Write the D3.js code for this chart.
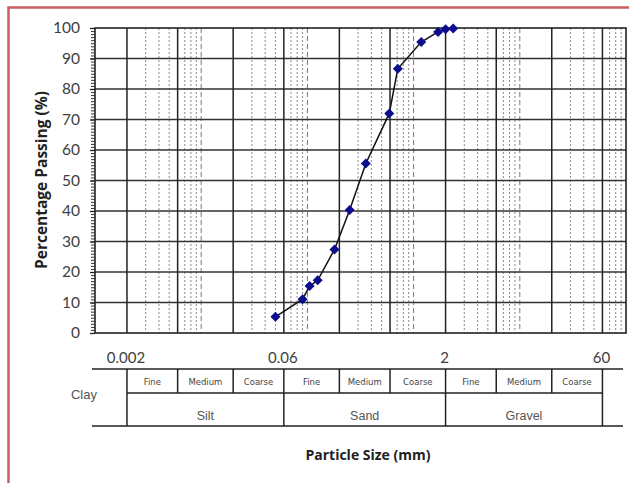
<!DOCTYPE html>
<html>
<head>
<meta charset="utf-8">
<script src="https://cdn.jsdelivr.net/npm/d3@7"></script>
<style>
  body { margin: 0; background: #fff; }
  svg { display: block; }
</style>
</head>
<body>
<div class="chart"></div>
<script>
// sieve data
const sizes = [0.05, 0.09, 0.105, 0.125, 0.18, 0.25, 0.355, 0.59, 0.71, 1.18, 1.7, 2.0, 2.36];
const passing = [5.3, 11.1, 15.4, 17.3, 27.4, 40.3, 55.6, 72.0, 86.6, 95.4, 98.7, 99.6, 99.8];

const xTicks = [0.002, 0.06, 2, 60];
const xTickLabels = ["0.002", "0.06", "2", "60"];
const yTicks = [0, 10, 20, 30, 40, 50, 60, 70, 80, 90, 100];

// soil classes
const boundaries = [0.002, 0.006, 0.02, 0.06, 0.2, 0.6, 2, 6, 20, 60];
const mainClasses = ["Silt", "Sand", "Gravel"];
const subClasses = ["Fine", "Medium", "Coarse"];

const width = 629;
const height = 483;

const xScale = d3.scaleLog()
  .domain([0.001, 100])
  .range([95, 626]);

const yScale = d3.scaleLinear()
  .domain([0, 100])
  .range([333, 28]);

const svg = d3.select(".chart")
  .append("svg")
  .attr("width", width)
  .attr("height", height);

// red frame round the picture
svg.append("rect")
  .attr("x", 8.5).attr("y", 7.5)
  .attr("width", 700).attr("height", 600)
  .attr("fill", "none")
  .attr("stroke", "#cc5c5e")
  .attr("stroke-width", 2.5);

// minor log grid (dashed)
const minor = [];
const decades = [];
for (let k = -3; k <= 1; k++) {
  const base = Math.pow(10, k);
  [3, 4, 5, 7, 8, 9].forEach(m => minor.push(m * base));
  if (k < 1) decades.push(10 * base);
}
svg.append("g").selectAll("line")
  .data(minor)
  .enter().append("line")
  .attr("x1", d => xScale(d)).attr("x2", d => xScale(d))
  .attr("y1", yScale(100)).attr("y2", yScale(0))
  .attr("stroke", "#8a8a8a")
  .attr("stroke-width", 1)
  .attr("stroke-dasharray", "2,2");

svg.append("g").selectAll("line")
  .data(decades)
  .enter().append("line")
  .attr("x1", d => xScale(d)).attr("x2", d => xScale(d))
  .attr("y1", yScale(100)).attr("y2", yScale(0))
  .attr("stroke", "#777")
  .attr("stroke-width", 1)
  .attr("stroke-dasharray", "5,3");

// horizontal grid
svg.append("g").selectAll("line")
  .data(yTicks.slice(1, -1))
  .enter().append("line")
  .attr("x1", xScale.range()[0]).attr("x2", xScale.range()[1])
  .attr("y1", d => yScale(d)).attr("y2", d => yScale(d))
  .attr("stroke", "#333")
  .attr("stroke-width", 1.3);

// class boundaries, solid
svg.append("g").selectAll("line")
  .data(boundaries)
  .enter().append("line")
  .attr("x1", d => xScale(d)).attr("x2", d => xScale(d))
  .attr("y1", yScale(100)).attr("y2", yScale(0))
  .attr("stroke", "#222")
  .attr("stroke-width", 1.5);

// plot frame
svg.append("rect")
  .attr("x", xScale.range()[0]).attr("y", yScale(100))
  .attr("width", xScale.range()[1] - xScale.range()[0])
  .attr("height", yScale(0) - yScale(100))
  .attr("fill", "none")
  .attr("stroke", "#222")
  .attr("stroke-width", 1.6);

// y axis with minor ticks
const yAxis = d3.axisLeft(yScale)
  .tickValues(d3.range(0, 101, 1))
  .tickSize(4)
  .tickFormat("");
svg.append("g")
  .attr("transform", "translate(" + xScale.range()[0] + ",0)")
  .call(yAxis)
  .call(g => g.select(".domain").remove())
  .call(g => g.selectAll("line").attr("stroke", "#333"));

const yAxisMajor = d3.axisLeft(yScale)
  .tickValues(yTicks)
  .tickSize(5)
  .tickPadding(10);
svg.append("g")
  .attr("transform", "translate(" + xScale.range()[0] + ",0)")
  .call(yAxisMajor)
  .call(g => g.select(".domain").remove())
  .call(g => g.selectAll("line").attr("stroke", "#222").attr("stroke-width", 1.3))
  .call(g => g.selectAll("text")
    .attr("fill", "#404040")
    .attr("font-family", "Lato, 'Open Sans', sans-serif")
    .attr("font-size", 15.5));

svg.append("text")
  .attr("transform", "translate(47,180) rotate(-90)")
  .attr("text-anchor", "middle")
  .attr("font-family", "'Open Sans', sans-serif")
  .attr("font-weight", "bold")
  .attr("font-size", 15.5)
  .attr("fill", "#222")
  .text("Percentage Passing (%)");

// x tick labels
svg.append("g").selectAll("text")
  .data(xTicks)
  .enter().append("text")
  .attr("x", d => xScale(d) - 1)
  .attr("y", 363)
  .attr("text-anchor", "middle")
  .attr("font-family", "Lato, 'Open Sans', sans-serif")
  .attr("font-size", 15)
  .attr("fill", "#404040")
  .text((d, i) => xTickLabels[i]);

// curve and points
const points = sizes.map((s, i) => [s, passing[i]]);
const line = d3.line()
  .x(d => xScale(d[0]))
  .y(d => yScale(d[1]));

svg.append("path")
  .datum(points)
  .attr("d", line)
  .attr("fill", "none")
  .attr("stroke", "#111")
  .attr("stroke-width", 1.5);

svg.append("g").selectAll("path")
  .data(points)
  .enter().append("path")
  .attr("d", d3.symbol().type(d3.symbolSquare).size(50))
  .attr("transform", d => "translate(" + xScale(d[0]) + "," + yScale(d[1]) + ") rotate(45)")
  .attr("fill", "#0c0c8e");

// classification table under the axis
const tTop = 369, tMid = 393, tBot = 426;
const table = svg.append("g").attr("stroke", "#222").attr("stroke-width", 1.5);

table.append("line").attr("x1", 92).attr("x2", 623).attr("y1", tTop).attr("y2", tTop);
table.append("line").attr("x1", 92).attr("x2", 623).attr("y1", tBot).attr("y2", tBot);
table.append("line")
  .attr("x1", xScale(boundaries[0])).attr("x2", xScale(60))
  .attr("y1", tMid).attr("y2", tMid);

table.selectAll(".major")
  .data(xTicks)
  .enter().append("line")
  .attr("x1", d => xScale(d)).attr("x2", d => xScale(d))
  .attr("y1", tTop).attr("y2", tBot);

table.selectAll(".sub")
  .data(boundaries.filter(b => xTicks.indexOf(b) < 0))
  .enter().append("line")
  .attr("x1", d => xScale(d)).attr("x2", d => xScale(d))
  .attr("y1", tTop).attr("y2", tMid);

// sub class labels
const subCells = [];
for (let i = 0; i < boundaries.length - 1; i++) {
  subCells.push({ a: boundaries[i], b: boundaries[i + 1], name: subClasses[i % 3] });
}
svg.append("g").selectAll("text")
  .data(subCells)
  .enter().append("text")
  .attr("x", d => (xScale(d.a) + xScale(d.b)) / 2)
  .attr("y", 385)
  .attr("text-anchor", "middle")
  .attr("font-family", "'DejaVu Sans', sans-serif")
  .attr("font-size", 8.5)
  .attr("fill", "#444")
  .text(d => d.name);

svg.append("g").selectAll("text")
  .data(mainClasses)
  .enter().append("text")
  .attr("x", (d, i) => (xScale(xTicks[i]) + xScale(xTicks[i + 1])) / 2)
  .attr("y", 420)
  .attr("text-anchor", "middle")
  .attr("font-family", "'Liberation Sans', Arial, sans-serif")
  .attr("font-size", 12.5)
  .attr("fill", "#555")
  .text(d => d);

svg.append("text")
  .attr("x", 84).attr("y", 399)
  .attr("text-anchor", "middle")
  .attr("font-family", "'Liberation Sans', Arial, sans-serif")
  .attr("font-size", 13)
  .attr("fill", "#555")
  .text("Clay");

svg.append("text")
  .attr("x", 368).attr("y", 460)
  .attr("text-anchor", "middle")
  .attr("font-family", "'Open Sans', sans-serif")
  .attr("font-weight", "bold")
  .attr("font-size", 14)
  .attr("fill", "#222")
  .text("Particle Size (mm)");
</script>
</body>
</html>
